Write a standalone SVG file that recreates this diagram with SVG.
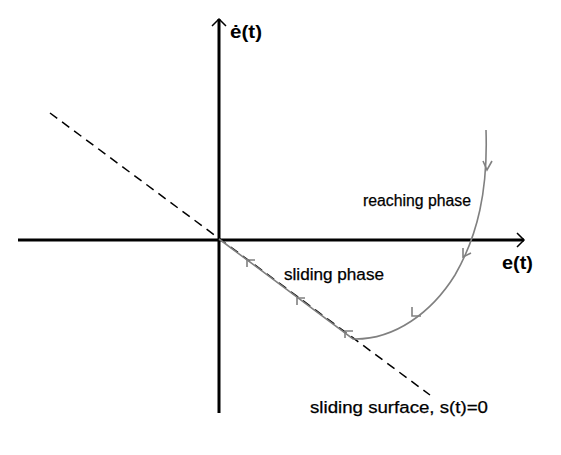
<svg xmlns="http://www.w3.org/2000/svg" width="561" height="455" viewBox="0 0 561 455">
<style>
.axis{stroke:#000;stroke-width:3;fill:none}
.ah{stroke:#000;stroke-width:1.5;fill:none}
.traj{stroke:#808080;stroke-width:1.6;fill:none}
.chev{stroke:#808080;stroke-width:1.6;fill:none}
.dash{stroke:#000;stroke-width:1.5;stroke-dasharray:9,6;fill:none}
.lbl{font-family:"Liberation Sans",Arial,sans-serif;font-size:16px;fill:#000;stroke:#000;stroke-width:0.25}
.ax{font-family:"Liberation Sans",Arial,sans-serif;font-size:19px;font-weight:bold;fill:#000}
</style>
<rect width="561" height="455" fill="#fff"/>
<g id="axes">
<line class="axis" x1="18" y1="240" x2="524" y2="240"/>
<path class="ah" d="M517,233 L524,240 L517,247"/>
<line class="axis" x1="219" y1="413" x2="219" y2="19"/>
<path class="ah" d="M212,26 L219,19 L226,26"/>
</g>
<g id="sliding-surface">
<line class="dash" x1="50" y1="113" x2="430" y2="395"/>
</g>
<g id="connectors">
<path class="traj" d="M486,130 C488,190 478,235 455,275 C432,312 395,340 353,339 L219,239"/>
<path class="chev" d="M483,161 L487,170 L492,161"/>
<path class="chev" d="M463,248 L463,257 L471,253"/>
<path class="chev" d="M412,307 L412,316 L421,316"/>
<path class="chev" d="M255,260 L247,260 L247,267"/>
<path class="chev" d="M305,298 L297,298 L297,305"/>
<path class="chev" d="M353,331 L345,331 L345,338"/>
</g>
<g id="labels">
<text class="ax" x="230" y="38" textLength="32" lengthAdjust="spacingAndGlyphs">ė(t)</text>
<text class="ax" x="502" y="269" textLength="31" lengthAdjust="spacingAndGlyphs">e(t)</text>
<text class="lbl" x="363" y="206" textLength="108" lengthAdjust="spacingAndGlyphs">reaching phase</text>
<text class="lbl" x="284" y="280" textLength="100" lengthAdjust="spacingAndGlyphs">sliding phase</text>
<text class="lbl" x="310" y="413" textLength="178" lengthAdjust="spacingAndGlyphs">sliding surface, s(t)=0</text>
</g>
</svg>
